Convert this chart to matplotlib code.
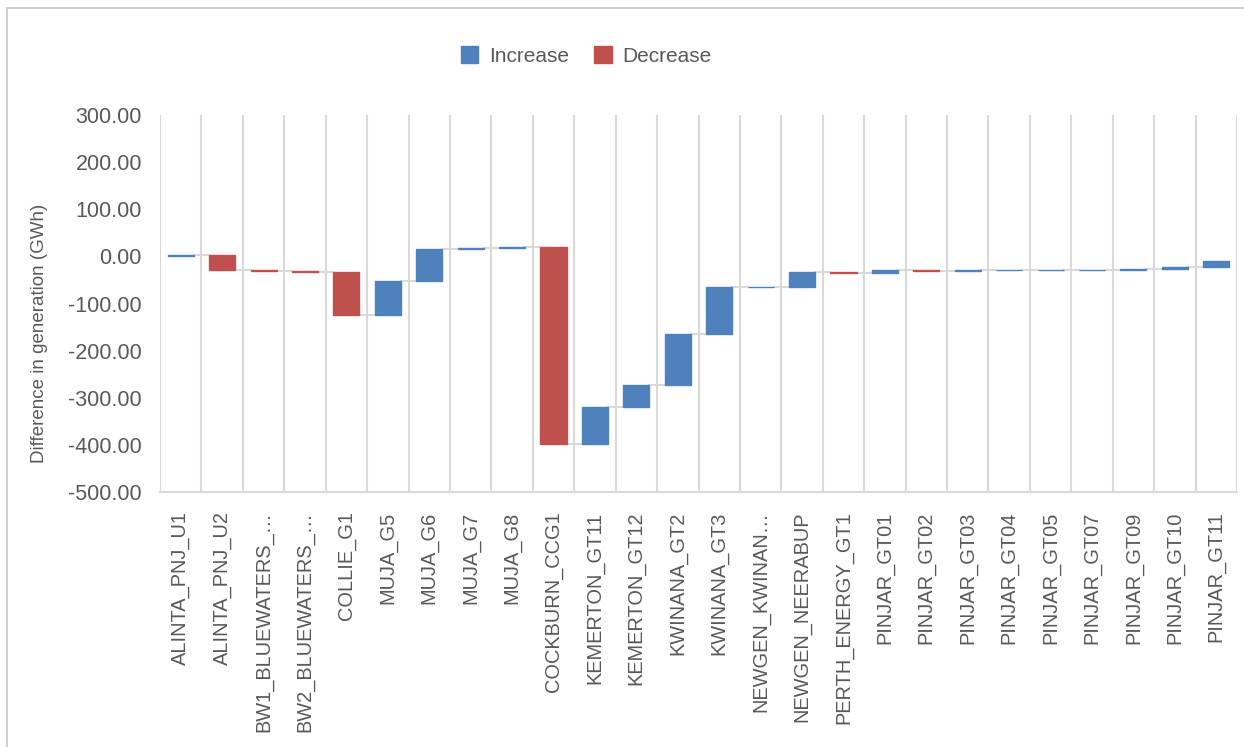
import numpy as np
import matplotlib.pyplot as plt
from matplotlib.patches import Patch, Rectangle

# Категории (станции) и изменения выработки, ГВт·ч
categories = ['ALINTA_PNJ_U1', 'ALINTA_PNJ_U2', 'BW1_BLUEWATERS_…', 'BW2_BLUEWATERS_…',
              'COLLIE_G1', 'MUJA_G5', 'MUJA_G6', 'MUJA_G7', 'MUJA_G8', 'COCKBURN_CCG1',
              'KEMERTON_GT11', 'KEMERTON_GT12', 'KWINANA_GT2', 'KWINANA_GT3',
              'NEWGEN_KWINAN…', 'NEWGEN_NEERABUP', 'PERTH_ENERGY_GT1', 'PINJAR_GT01',
              'PINJAR_GT02', 'PINJAR_GT03', 'PINJAR_GT04', 'PINJAR_GT05', 'PINJAR_GT07',
              'PINJAR_GT09', 'PINJAR_GT10', 'PINJAR_GT11']
deltas = [3, -31, -4, -2, -90, 71, 68, 2, 3, -418, 78, 47, 109, 98, 2, 30, -2,
          7, -1, 0.5, 0.3, 0.3, 0.5, 2, 3, 13]
yticks = [300, 200, 100, 0, -100, -200, -300, -400, -500]

blue = '#4F81BD'
red = '#C0504D'
grey_text = '#595959'
grid_col = '#D9D9D9'

plt.rcParams['font.family'] = ['Liberation Sans', 'DejaVu Sans']

deltas = np.array(deltas, dtype=float)
ends = np.cumsum(deltas)
starts = ends - deltas
x = np.arange(len(categories))
colors = [blue if d >= 0 else red for d in deltas]

fig = plt.figure(figsize=(12.44, 7.47), dpi=100)
ax = fig.add_axes([160 / 1244, 1 - 492 / 747, 1077 / 1244, 377 / 747])

# Бары водопада
w = 0.63
ax.bar(x, deltas, bottom=starts, width=w, color=colors, edgecolor=colors,
       linewidth=1.0, zorder=3)

# Соединительные линии
for i in range(len(x) - 1):
    ax.plot([x[i] + w / 2, x[i + 1] - w / 2], [ends[i], ends[i]],
            color=grid_col, lw=1.5, zorder=2)

# Вертикальная сетка по границам категорий
for b in np.arange(-0.5, len(x), 1.0):
    ax.axvline(b, color=grid_col, lw=1.5, zorder=1)

ax.set_xlim(-0.5, len(x) - 0.5)
ax.set_ylim(-500, 300)
ax.set_yticks(yticks)
ax.set_yticklabels([f'{v:.2f}' for v in yticks])
ax.set_xticks(x)
ax.set_xticklabels(categories, rotation=90)

for s in ['top', 'right', 'left']:
    ax.spines[s].set_visible(False)
ax.spines['bottom'].set_color(grid_col)
ax.spines['bottom'].set_linewidth(1.5)
ax.spines['bottom'].set_zorder(0)

ax.tick_params(axis='y', length=0, pad=13, labelsize=15.5, labelcolor=grey_text)
ax.tick_params(axis='x', length=0, pad=14, labelsize=14.4, labelcolor=grey_text)

ax.set_ylabel('Difference in generation (GWh)', fontsize=13.5, color=grey_text)
ax.yaxis.set_label_coords(-0.104, 0.42)

# Легенда
handles = [Patch(facecolor=blue, edgecolor=blue), Patch(facecolor=red, edgecolor=red)]
fig.legend(handles, ['Increase', 'Decrease'], loc='center', ncol=2,
           bbox_to_anchor=(0.471, 0.925), frameon=False, fontsize=15,
           labelcolor=grey_text, handlelength=0.85, handleheight=0.85,
           columnspacing=1.2, handletextpad=0.5)

# Рамка области диаграммы
fig.add_artist(Rectangle((7 / 1244, -0.1), 1.2, 1 - 8 / 747 + 0.1,
                         transform=fig.transFigure, fill=False,
                         edgecolor='#C8C8C8', lw=1.2))

fig.savefig('out.png', dpi=100)
